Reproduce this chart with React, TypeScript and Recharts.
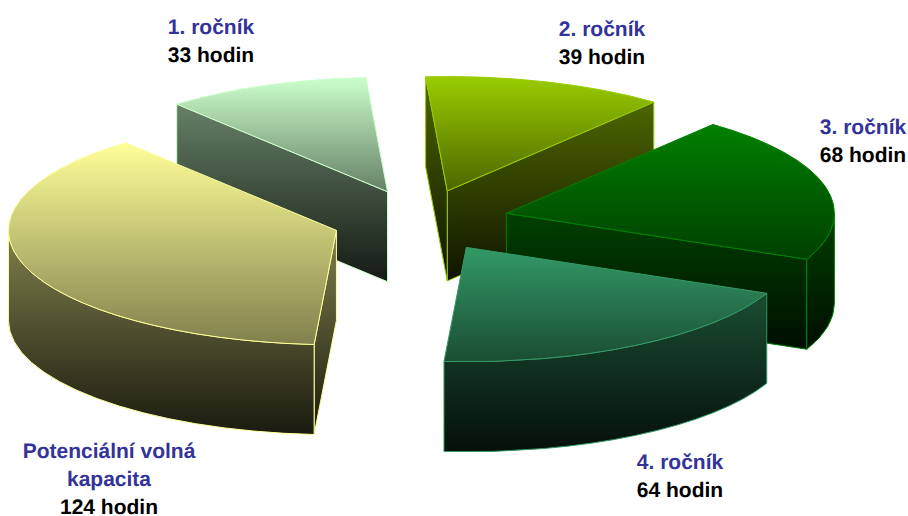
import React from "react";
import { PieChart, Pie } from "recharts";

// Teaching hours per study year plus the free capacity.
const categories = ["1. ročník", "2. ročník", "3. ročník", "4. ročník", "Potenciální volná\nkapacita"];
const hours = [33, 39, 68, 64, 124];
const baseColors = ["#CCFFCC", "#99CC00", "#008000", "#339966", "#FFFF99"];

const WIDTH = 908;
const HEIGHT = 516;
const CENTER_X = 420.5;
const CENTER_Y = 220.7;
const RADIUS = 328;
const TILT = 114.4 / 328; // vertical squash of the circular pie
const DEPTH = 90; // extrusion height
const EXPLODE_X = 88.4;
const EXPLODE_Y = 31.2;

// Label block placement: horizontal centre and first baseline.
const labelPlaces = [
  { x: 211, y: 33.5 },
  { x: 602, y: 36 },
  { x: 863, y: 134 },
  { x: 680, y: 469 },
  { x: 109, y: 457.5 },
];
const LINE_GAP = 28.4;

const rows = categories.map((name, i) => ({ name, value: hours[i], fill: baseColors[i] }));

const shade = (hex: string, k: number) => {
  const n = parseInt(hex.slice(1), 16);
  const part = (v: number) => Math.round(v * k);
  return `rgb(${part((n >> 16) & 255)},${part((n >> 8) & 255)},${part(n & 255)})`;
};

const RAD = Math.PI / 180;

// Draws one sector as an extruded, tilted wedge pulled out along its mid angle.
const Wedge3D = (props: any) => {
  const { cx, cy, outerRadius: r, startAngle, endAngle, midAngle, fill, index } = props;
  const ry = r * TILT;
  const ax = cx + EXPLODE_X * Math.cos(midAngle * RAD);
  const ay = cy - EXPLODE_Y * Math.sin(midAngle * RAD);
  const rim = (deg: number): [number, number] => [
    ax + r * Math.cos(deg * RAD),
    ay - ry * Math.sin(deg * RAD),
  ];
  const [sx, sy] = rim(startAngle);
  const [ex, ey] = rim(endAngle);
  const span = Math.abs(endAngle - startAngle);
  const face = `M${ax},${ay}L${sx},${sy}A${r},${ry} 0 ${span > 180 ? 1 : 0} 1 ${ex},${ey}Z`;

  // Only edges running right-to-left in clockwise order show a wall below them.
  const walls: string[] = [];
  const quad = (x1: number, y1: number, x2: number, y2: number) => {
    if (x2 < x1) walls.push(`M${x1},${y1}L${x2},${y2}L${x2},${y2 + DEPTH}L${x1},${y1 + DEPTH}Z`);
  };
  quad(ex, ey, ax, ay);
  quad(ax, ay, sx, sy);

  // The curved outer wall is visible on the front half of the ellipse (angles 180..360).
  const norm = (d: number) => ((d % 360) + 360) % 360;
  let visible: [number, number][] = [];
  const flush = () => {
    if (visible.length > 1) {
      const [fx, fy] = visible[0];
      const [lx, ly] = visible[visible.length - 1];
      walls.push(
        `M${fx},${fy}A${r},${ry} 0 0 1 ${lx},${ly}` +
          `L${lx},${ly + DEPTH}A${r},${ry} 0 0 0 ${fx},${fy + DEPTH}Z`
      );
    }
    visible = [];
  };
  for (let d = startAngle; d >= endAngle; d -= 1) {
    if (norm(d) >= 180) visible.push(rim(d));
    else flush();
  }
  if (norm(endAngle) >= 180) visible.push(rim(endAngle));
  flush();

  const faceId = `face-${index}`;
  const wallId = `wall-${index}`;
  return (
    <g>
      <defs>
        <linearGradient id={faceId} x1="0" y1="0" x2="0" y2="1">
          <stop offset="0" stopColor={shade(fill, 1)} />
          <stop offset="1" stopColor={shade(fill, 0.5)} />
        </linearGradient>
        <linearGradient id={wallId} x1="0" y1="0" x2="0" y2="1">
          <stop offset="0" stopColor={shade(fill, 0.5)} />
          <stop offset="1" stopColor={shade(fill, 0.1)} />
        </linearGradient>
      </defs>
      {walls.map((d, i) => (
        <path key={i} d={d} fill={`url(#${wallId})`} stroke={fill} strokeWidth={1} strokeLinejoin="round" />
      ))}
      <path d={face} fill={`url(#${faceId})`} stroke={fill} strokeWidth={1} strokeLinejoin="round" />
    </g>
  );
};

const SliceLabel = (props: any) => {
  const { index, name, value } = props;
  const place = labelPlaces[index];
  const lines: string[] = String(name).split("\n");
  return (
    <text
      x={place.x}
      y={place.y}
      textAnchor="middle"
      fontFamily="'Liberation Sans', Arial, sans-serif"
      fontWeight="bold"
      fontSize={21}
      textRendering="geometricPrecision"
    >
      {lines.map((line, i) => (
        <tspan key={line} x={place.x} dy={i === 0 ? 0 : LINE_GAP} fill="#333399">
          {line}
        </tspan>
      ))}
      <tspan x={place.x} dy={LINE_GAP} fill="#000000">
        {`${value} hodin`}
      </tspan>
    </text>
  );
};

export default function App() {
  return (
    <div style={{ position: "absolute", left: 0, top: 0, width: WIDTH, height: HEIGHT, background: "#fff" }}>
      <PieChart width={WIDTH} height={HEIGHT} margin={{ top: 0, right: 0, bottom: 0, left: 0 }}>
        <Pie
          data={rows}
          dataKey="value"
          nameKey="name"
          cx={CENTER_X}
          cy={CENTER_Y}
          innerRadius={0}
          outerRadius={RADIUS}
          startAngle={130}
          endAngle={-230}
          stroke="none"
          isAnimationActive={false}
          shape={Wedge3D}
          inactiveShape={Wedge3D}
          activeShape={Wedge3D}
          label={SliceLabel}
          labelLine={false}
        />
      </PieChart>
    </div>
  );
}
